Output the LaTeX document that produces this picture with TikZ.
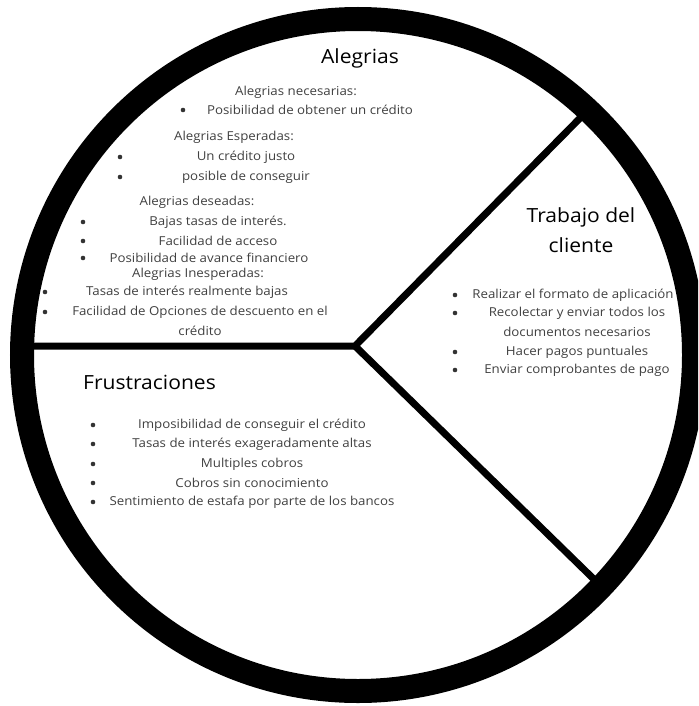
\documentclass[tikz,border=0pt]{standalone}
\usepackage{fontspec}
\setmainfont{Open Sans}[FakeStretch=1.08]
\tikzset{
  txt/.style={text=black!75, font=\fontsize{12.3}{14}\selectfont, inner sep=0pt},
  ttl/.style={text=black, font=\fontsize{19.5}{22}\selectfont, inner sep=0pt}
}
\begin{document}
\begin{tikzpicture} [x=1pt, y=-1pt]

\useasboundingbox (0,0) rectangle (698,706);
\clip (0,0) rectangle (698,706);

\coordinate (c) at (358,355);
\coordinate (jn) at (355,346);
\coordinate (lft) at (20,346);
\coordinate (up) at (590,108);
\coordinate (low) at (606,591);

% ring and dividers
\draw [line width=24pt] (c) circle (336);
\draw [line width=7pt] (lft)--(jn)--(up) ;
\draw [line width=7pt] (jn)--(low) ;

% Alegrias
\node [ttl] (ale) at (360,58) {Alegrias};
\node [txt] (nec) at (296,92) {Alegrias necesarias:};
\node [txt] (nec1) at (310,110) {Posibilidad de obtener un crédito};
\node [txt] (esp) at (234,137) {Alegrias Esperadas:};
\node [txt] (esp1) at (246,157) {Un crédito justo};
\node [txt] (esp2) at (246,177) {posible de conseguir};
\node [txt] (des) at (197,202) {Alegrias deseadas:};
\node [txt] (des1) at (218,222) {Bajas tasas de interés.};
\node [txt] (des2) at (218,241) {Facilidad de acceso};
\node [txt] (des3) at (209,258) {Posibilidad de avance financiero};
\node [txt] (ine) at (198,274) {Alegrias Inesperadas:};
\node [txt] (ine1) at (187,292) {Tasas de interés realmente bajas};
\node [txt] (ine2) at (200,312) {Facilidad de Opciones de descuento en el};
\node [txt] (ine3) at (200,331) {crédito};

% Trabajo del cliente
\node [ttl] (tra) at (581,217) {Trabajo del};
\node [ttl] (tra2) at (581,245) {cliente};
\node [txt] (tra3) at (573,295) {Realizar el formato de aplicación};
\node [txt] (tra4) at (577,313) {Recolectar y enviar todos los};
\node [txt] (tra5) at (577,332) {documentos necesarios};
\node [txt] (tra6) at (577,352) {Hacer pagos puntuales};
\node [txt] (tra7) at (577,370) {Enviar comprobantes de pago};

% Frustraciones
\node [ttl, anchor=west] (fru) at (83,382) {Frustraciones};
\node [txt] (fru1) at (252,425) {Imposibilidad de conseguir el crédito};
\node [txt] (fru2) at (252,444) {Tasas de interés exageradamente altas};
\node [txt] (fru3) at (252,464) {Multiples cobros};
\node [txt] (fru4) at (252,483) {Cobros sin conocimiento};
\node [txt] (fru5) at (252,502) {Sentimiento de estafa por parte de los bancos};

% bullets
\foreach \bx/\by in {183/110, 120/157, 120/177, 83/222, 83/241, 83/258,
  45/292, 45/312, 455/295, 455/313, 455/352, 455/370,
  93/425, 93/444, 93/464, 93/483, 93/502}
  \fill [black!80] (\bx,\by) circle (2.3);

\end{tikzpicture}
\end{document}
